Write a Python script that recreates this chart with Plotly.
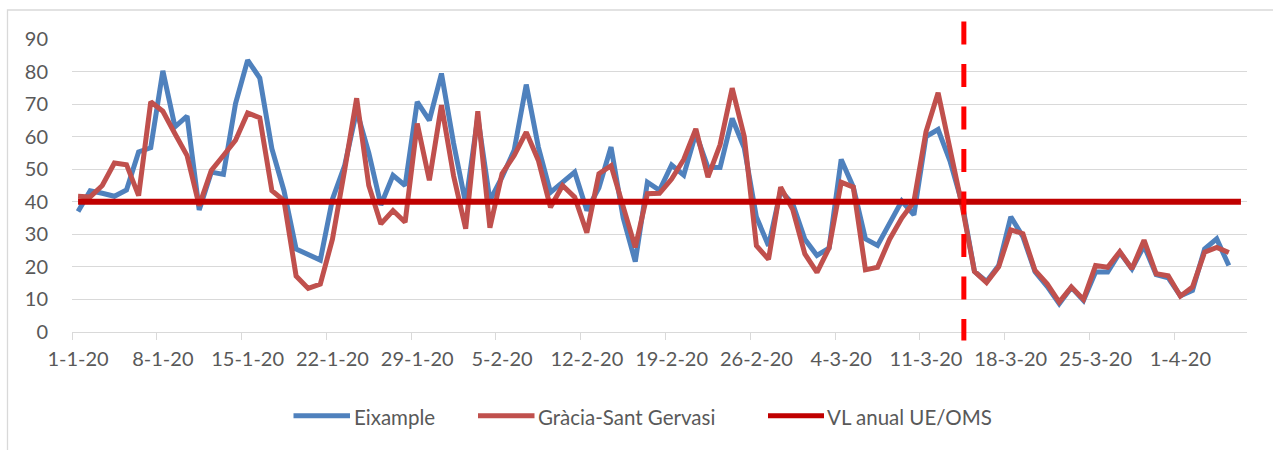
import pandas as pd
import plotly.graph_objects as go

# ---- data -------------------------------------------------------------
dates = pd.date_range("2020-01-01", "2020-04-06", freq="D")

eixample = [
    37, 43.4, 42.6, 41.7, 43.6, 55.3, 56.6, 80.2, 63, 66.3,
    37.5, 49.1, 48.4, 70.2, 83.5, 78, 56.3, 43.4, 25.5, 23.7,
    22.1, 40.8, 51, 68, 55, 39, 48.1, 45, 70.7, 65,
    79.4, 58, 39.5, 66, 40.4, 47.6, 55.8, 76, 56.8, 42.9,
    46, 49.1, 37.3, 44.3, 56.8, 35.1, 21.6, 46, 43.5, 51.3,
    48.2, 61, 50.5, 50.5, 65.6, 56.5, 35.3, 26.5, 43.4, 39.4,
    28.5, 23.5, 25.8, 53, 44.5, 28.6, 26.6, 33.2, 40.2, 36,
    60, 62.2, 52.3, 39.3, 18.6, 15.5, 20.4, 35.4, 29.3, 18.5,
    14, 8.7, 13.7, 9.7, 18.4, 18.4, 24.4, 19.4, 26.5, 17.6,
    16.6, 11.1, 12.8, 25.5, 28.6, 20.4, None,
]

gracia = [
    41.7, 41.5, 45, 51.9, 51.4, 41.9, 70.7, 67.8, 60.9, 54.2,
    38.8, 49.6, 54.2, 58.9, 67.3, 65.8, 43.4, 40.4, 17.2, 13.4,
    14.7, 28.5, 49.6, 71.8, 45, 33.2, 37.3, 33.7, 64, 46.6,
    69.7, 48, 31.7, 67.8, 32, 48.6, 54.2, 61.4, 52.7, 38.3,
    45, 41.4, 30.5, 48.6, 51.1, 38.5, 26, 42.5, 42.6, 47,
    53, 62.4, 47.6, 57.5, 74.9, 60, 26.5, 22.3, 44.5, 37.6,
    24, 18.3, 25.8, 46, 44.5, 19.1, 19.9, 28.5, 35, 40,
    61.5, 73.5, 56.5, 38.3, 18.6, 15.2, 20, 31.4, 30.2, 18.9,
    14.8, 9.2, 13.8, 10, 20.4, 19.9, 24.7, 19.4, 28.2, 17.9,
    17.3, 11, 13.8, 24.5, 26, 24.4, None,
]

vl_anual = [40] * len(dates)

tick_every = 7
label_dates = dates[::tick_every]
tick_labels = [f"{d.day}-{d.month}-{d.strftime('%y')}" for d in label_dates]
boundary_dates = label_dates - pd.Timedelta(hours=12)

estat_alarma = pd.Timestamp("2020-03-14 03:00")

series_names = ["Eixample", "Gràcia-Sant Gervasi", "VL anual UE/OMS"]
series_colors = ["#4F81BD", "#C0504D", "#C00000"]

# ---- layout geometry (pixels) -----------------------------------------
W, H = 1273, 450
ML, MR, MT, MB = 72, 26, 39, 118
PW, PH = W - ML - MR, H - MT - MB


def px_x(px):
    return (px - ML) / PW


def px_y(py):
    return (H - MB - py) / PH


TXT = "#595959"
GRID = "#D9D9D9"
FONT = "Lato, Carlito, Calibri, sans-serif"

fig = go.Figure()
series_values = [eixample, gracia, vl_anual]
widths = [5, 5, 6]
for name, vals, col, w in zip(series_names, series_values, series_colors, widths):
    fig.add_trace(go.Scatter(
        x=dates, y=vals, mode="lines", name=name,
        line=dict(color=col, width=w), connectgaps=False,
        showlegend=False,
    ))

# state of alarm marker
fig.add_shape(
    type="line", xref="x", yref="paper",
    x0=estat_alarma, x1=estat_alarma, y0=px_y(21.5), y1=px_y(340.5),
    line=dict(color="#FF0000", width=5, dash="23px,19.5px"),
    layer="above",
)
# outer chart frame
fig.add_shape(
    type="rect", xref="paper", yref="paper",
    x0=px_x(7.5), x1=px_x(1290), y0=px_y(470), y1=px_y(10),
    line=dict(color=GRID, width=1.3), fillcolor="rgba(0,0,0,0)",
    layer="below",
)

# legend drawn by hand (line sample + label)
legend_items = [  # (line x0, line x1, text x)
    (293.5, 350, 353),
    (478, 534.5, 537),
    (768, 824, 826),
]
LEG_Y = 415.7
for (lx0, lx1, tx), name, col in zip(legend_items, series_names, series_colors):
    fig.add_shape(
        type="line", xref="paper", yref="paper",
        x0=px_x(lx0), x1=px_x(lx1), y0=px_y(LEG_Y), y1=px_y(LEG_Y),
        line=dict(color=col, width=5),
    )
    fig.add_annotation(
        xref="paper", yref="paper", x=px_x(tx), y=px_y(LEG_Y + 1),
        xanchor="left", yanchor="middle", text=name, showarrow=False,
        font=dict(family=FONT, color=TXT, size=20.5), borderpad=0,
    )

fig.update_layout(
    width=W, height=H,
    margin=dict(l=ML, r=MR, t=MT, b=MB, pad=0),
    paper_bgcolor="white", plot_bgcolor="white",
    font=dict(family=FONT, color=TXT, size=20),
    showlegend=False,
    xaxis=dict(
        type="date",
        range=[dates[0] - pd.Timedelta(hours=12), dates[-1] + pd.Timedelta(hours=12)],
        tickmode="array", tickvals=list(label_dates), ticktext=tick_labels,
        ticks="", showgrid=False, zeroline=False,
        showline=True, linecolor=GRID, linewidth=1.3,
        tickfont=dict(family=FONT, color=TXT, size=20),
        ticklabelstandoff=9, automargin=False,
        minor=dict(tickmode="array", tickvals=list(boundary_dates),
                   ticks="outside", ticklen=7, tickwidth=1.3,
                   tickcolor=GRID, showgrid=False),
    ),
    yaxis=dict(
        range=[0, 90], tickmode="array", tickvals=list(range(0, 91, 10)),
        ticks="", showgrid=True, gridcolor=GRID, gridwidth=1.3,
        zeroline=False, showline=False,
        tickfont=dict(family=FONT, color=TXT, size=20),
        ticklabelstandoff=23, automargin=False,
    ),
)

fig.write_html(
    "out.html",
    config={"displayModeBar": False},
    post_script="document.body.style.margin='0px';document.body.style.overflow='hidden';",
)
